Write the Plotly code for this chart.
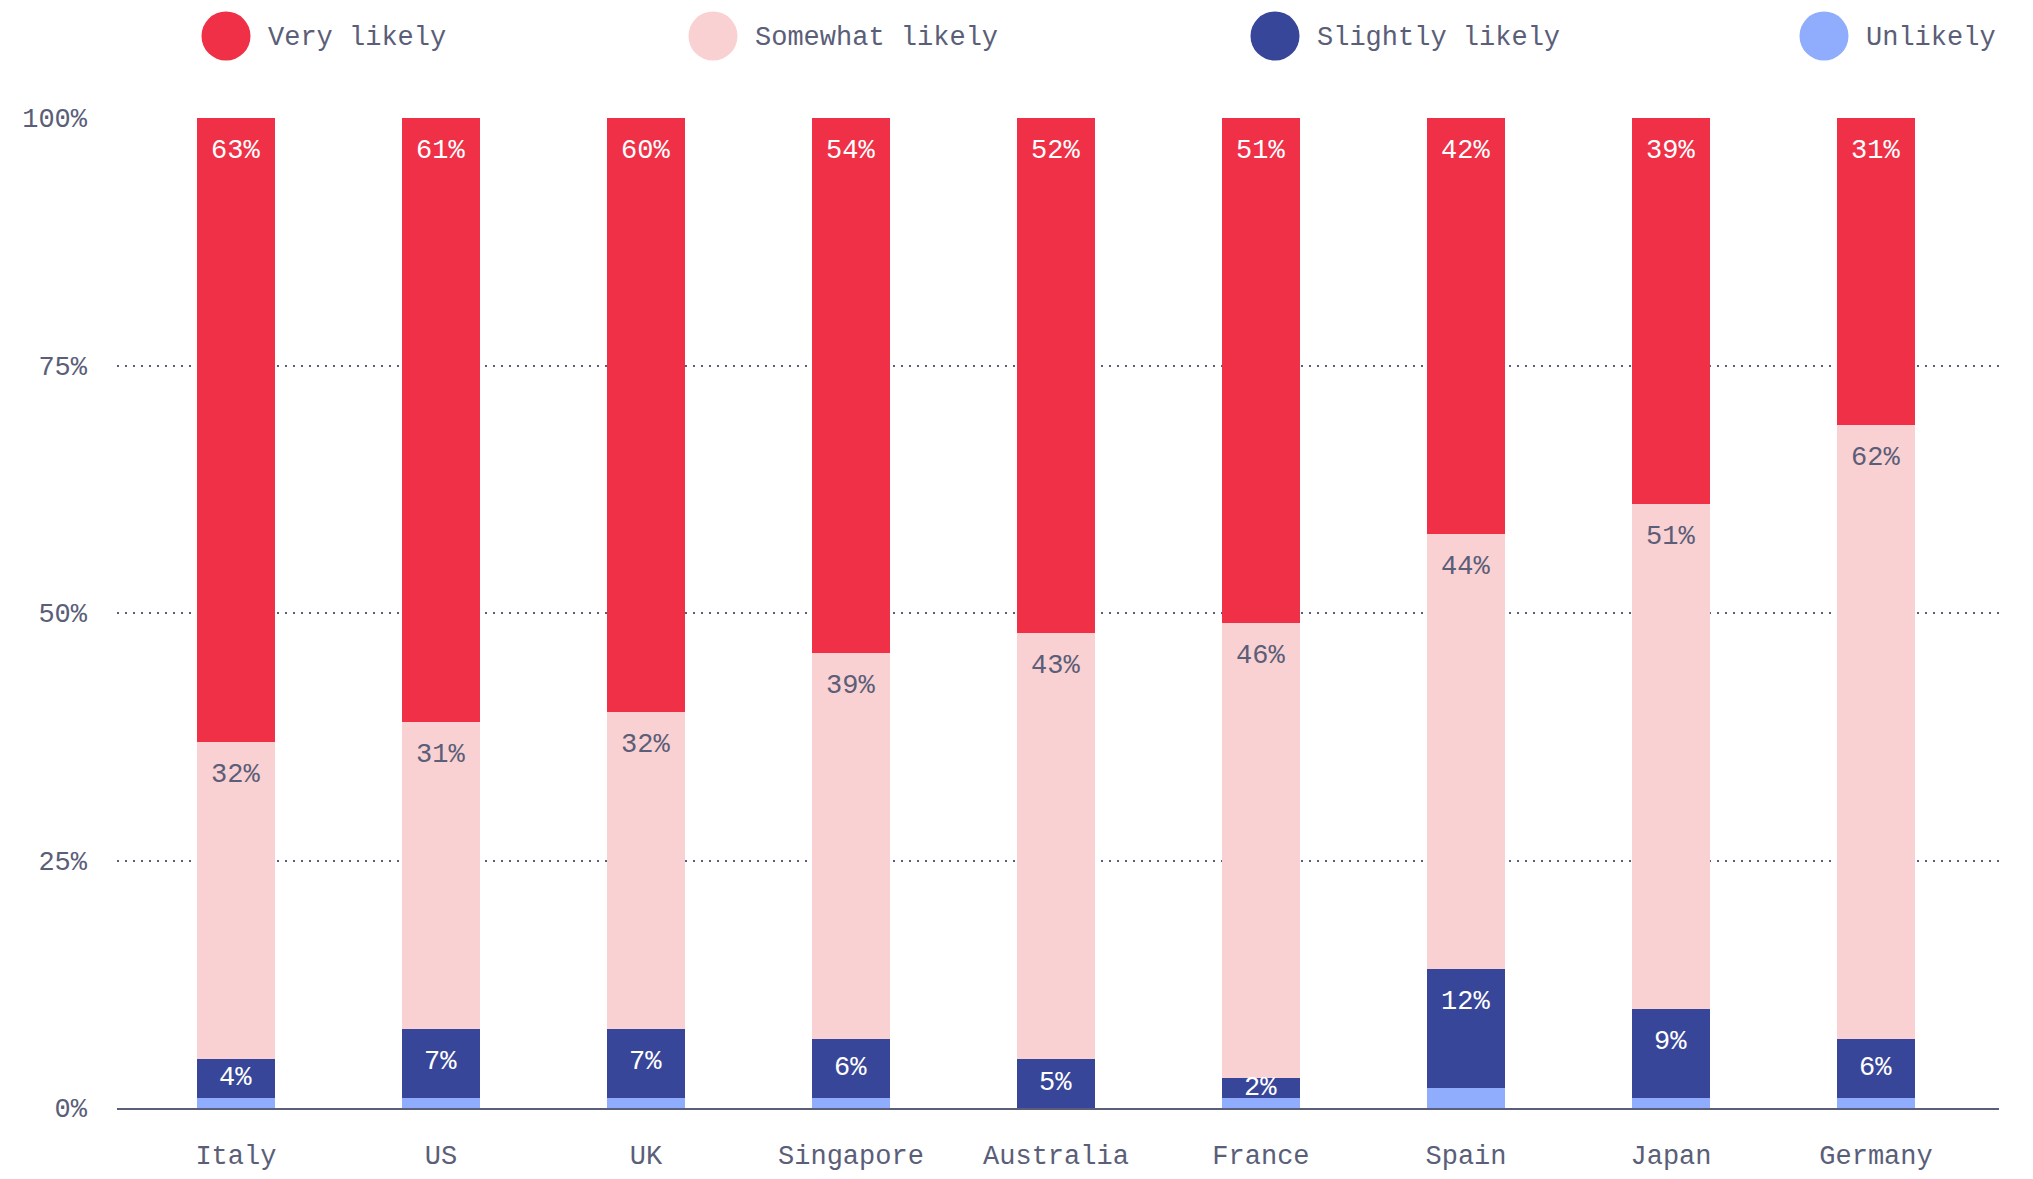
import plotly.graph_objects as go

countries = ["Italy", "US", "UK", "Singapore", "Australia", "France", "Spain", "Japan", "Germany"]
unlikely = [1, 1, 1, 1, 0, 1, 2, 1, 1]
slightly = [4, 7, 7, 6, 5, 2, 12, 9, 6]
somewhat = [32, 31, 32, 39, 43, 46, 44, 51, 62]
very = [63, 61, 60, 54, 52, 51, 42, 39, 31]

series_names = ["Unlikely", "Slightly likely", "Somewhat likely", "Very likely"]
series_values = [unlikely, slightly, somewhat, very]
series_colors = ["#8FADFC", "#38469A", "#FAD1D2", "#F03046"]
label_colors = [None, "#FFFFFF", "#5A5E78", "#FFFFFF"]

ytick_vals = [0, 25, 50, 75, 100]
ytick_text = ["0%", "25%", "50%", "75%", "100%"]

# page adds an 8px body margin, so the figure is 16px smaller and shifted
OFF = 8
W, H = 2033 - 2 * OFF, 1179 - 2 * OFF
ML, MR, MT, MB = 117 - OFF, 26, 118 - OFF, 63
PW, PH = W - ML - MR, H - MT - MB
TEXT = "#5A5E78"
FONT = "Liberation Mono"
FS = 27

fig = go.Figure()
for name, vals, col in zip(series_names, series_values, series_colors):
    fig.add_trace(go.Bar(x=countries, y=vals, name=name, marker=dict(color=col, line=dict(width=0)),
                         showlegend=False, hoverinfo="x+y+name"))

annotations = []
px_per_unit = PH / 100.0
for i, c in enumerate(countries):
    cum = 0
    for s, (vals, lc) in enumerate(zip(series_values, label_colors)):
        v = vals[i]
        cum += v
        if lc is None or v <= 0:
            continue
        shift = min(33, v * px_per_unit / 2)
        annotations.append(dict(x=c, y=cum, xref="x", yref="y", text=f"{v}%", showarrow=False,
                                yshift=-shift, yanchor="middle", xanchor="center",
                                font=dict(family=FONT, size=FS, color=lc)))

# legend drawn manually (coordinates in page pixels)
def px_x(p):
    return (p - OFF - ML) / PW

def px_y(p):
    return (H - MB - (p - OFF)) / PH

legend_order = ["Very likely", "Somewhat likely", "Slightly likely", "Unlikely"]
legend_cols = ["#F03046", "#FAD1D2", "#38469A", "#8FADFC"]
legend_cx = [226, 713, 1275, 1824]
shapes = []
for name, col, cx in zip(legend_order, legend_cols, legend_cx):
    shapes.append(dict(type="circle", xref="paper", yref="paper", xsizemode="pixel", ysizemode="pixel",
                       xanchor=px_x(cx), yanchor=px_y(36), x0=-24.5, x1=24.5, y0=-24.5, y1=24.5,
                       fillcolor=col, line=dict(width=0)))
    annotations.append(dict(x=px_x(cx + 40), y=px_y(38), xref="paper", yref="paper", text=name,
                            showarrow=False, xanchor="left", yanchor="middle",
                            font=dict(family=FONT, size=FS, color=TEXT)))

fig.update_layout(
    width=W, height=H,
    margin=dict(l=ML, r=MR, t=MT, b=MB, autoexpand=False),
    barmode="stack", bargap=0.62,
    plot_bgcolor="white", paper_bgcolor="white",
    annotations=annotations, shapes=shapes,
    font=dict(family=FONT, color=TEXT, size=FS),
)
fig.update_xaxes(range=[-0.58, 8.6], showgrid=False, showline=True, linecolor="#5A5E78", linewidth=2,
                 ticks="", tickfont=dict(family=FONT, size=FS, color=TEXT), ticklabelstandoff=22,
                 automargin=False, fixedrange=True)
fig.update_yaxes(range=[0, 100], tickvals=ytick_vals, ticktext=ytick_text, showgrid=True,
                 gridcolor="#5A5E78", gridwidth=2, griddash="2px,6px", zeroline=False, showline=False,
                 ticks="", tickfont=dict(family=FONT, size=FS, color=TEXT), ticklabelstandoff=29,
                 automargin=False, fixedrange=True)

fig.write_html("out.html")
